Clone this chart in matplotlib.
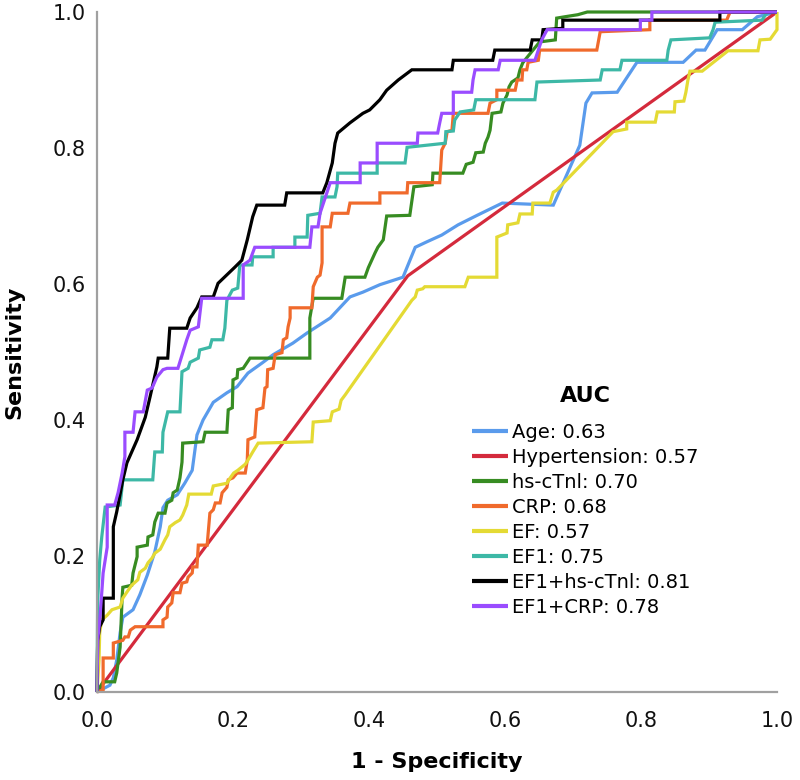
import matplotlib
matplotlib.use("Agg")
import matplotlib.pyplot as plt

# ---- data (1 - specificity, sensitivity) ----
labels = ["Age: 0.63", "Hypertension: 0.57", "hs-cTnl: 0.70", "CRP: 0.68",
          "EF: 0.57", "EF1: 0.75", "EF1+hs-cTnl: 0.81", "EF1+CRP: 0.78"]
colors = ["#5a9bec", "#d42a3c", "#378c22", "#f06a2c", "#e4da34", "#3db8a6",
          "#000000", "#9a4cff"]

age_x = [0, 0.019, 0.024, 0.029, 0.034, 0.038, 0.053, 0.063, 0.074, 0.085, 0.093, 0.097,
         0.104, 0.118, 0.129, 0.140, 0.147, 0.156, 0.171, 0.191, 0.206, 0.222, 0.243,
         0.259, 0.288, 0.309, 0.343, 0.372, 0.391, 0.416, 0.450, 0.468, 0.485, 0.507,
         0.531, 0.559, 0.596, 0.671, 0.710, 0.719, 0.728, 0.765, 0.794, 0.862, 0.881,
         0.894, 0.912, 0.949, 0.971, 1.0]
age_y = [0, 0.010, 0.021, 0.047, 0.087, 0.110, 0.121, 0.143, 0.172, 0.206, 0.243, 0.271,
         0.282, 0.290, 0.307, 0.326, 0.378, 0.400, 0.426, 0.440, 0.449, 0.469, 0.484,
         0.496, 0.513, 0.528, 0.550, 0.581, 0.588, 0.599, 0.610, 0.654, 0.662, 0.672,
         0.687, 0.701, 0.719, 0.716, 0.804, 0.866, 0.881, 0.882, 0.926, 0.926, 0.944,
         0.944, 0.974, 0.974, 0.993, 1.0]

htn_x = [0, 0.457, 1.0]
htn_y = [0, 0.612, 1.0]

tni_x = [0, 0.009, 0.026, 0.029, 0.034, 0.037, 0.038, 0.051, 0.053, 0.059, 0.059, 0.074,
         0.075, 0.082, 0.085, 0.090, 0.100, 0.103, 0.110, 0.112, 0.118, 0.122, 0.125,
         0.126, 0.156, 0.159, 0.191, 0.193, 0.199, 0.200, 0.206, 0.207, 0.215, 0.221,
         0.225, 0.313, 0.313, 0.318, 0.360, 0.365, 0.394, 0.399, 0.404, 0.409, 0.413,
         0.421, 0.426, 0.460, 0.466, 0.493, 0.494, 0.538, 0.543, 0.553, 0.557, 0.568,
         0.571, 0.575, 0.578, 0.581, 0.594, 0.597, 0.603, 0.606, 0.610, 0.619, 0.622,
         0.626, 0.629, 0.651, 0.674, 0.676, 0.688, 0.707, 0.721, 1.0]
tni_y = [0, 0.015, 0.015, 0.028, 0.066, 0.140, 0.154, 0.157, 0.175, 0.199, 0.213, 0.216,
         0.228, 0.231, 0.250, 0.263, 0.263, 0.278, 0.282, 0.293, 0.297, 0.315, 0.338,
         0.366, 0.368, 0.382, 0.382, 0.415, 0.418, 0.459, 0.462, 0.474, 0.476, 0.485,
         0.491, 0.491, 0.550, 0.579, 0.579, 0.610, 0.610, 0.624, 0.635, 0.646, 0.654,
         0.665, 0.700, 0.701, 0.743, 0.746, 0.763, 0.763, 0.776, 0.779, 0.793, 0.794,
         0.807, 0.816, 0.826, 0.851, 0.853, 0.866, 0.878, 0.890, 0.897, 0.903, 0.915,
         0.925, 0.929, 0.956, 0.959, 0.991, 0.993, 0.996, 1.0, 1.0]

crp_x = [0, 0.009, 0.009, 0.024, 0.024, 0.038, 0.041, 0.046, 0.049, 0.056, 0.097, 0.097,
         0.103, 0.104, 0.110, 0.112, 0.122, 0.125, 0.132, 0.134, 0.140, 0.141, 0.147,
         0.149, 0.162, 0.163, 0.166, 0.171, 0.174, 0.181, 0.184, 0.191, 0.193, 0.200,
         0.206, 0.218, 0.221, 0.222, 0.232, 0.235, 0.244, 0.247, 0.250, 0.251, 0.259,
         0.262, 0.272, 0.274, 0.279, 0.281, 0.284, 0.284, 0.316, 0.318, 0.324, 0.328,
         0.331, 0.331, 0.343, 0.346, 0.369, 0.372, 0.416, 0.416, 0.456, 0.457, 0.504,
         0.507, 0.512, 0.515, 0.522, 0.524, 0.575, 0.578, 0.588, 0.588, 0.615, 0.618,
         0.625, 0.626, 0.632, 0.634, 0.649, 0.651, 0.735, 0.740, 0.813, 0.813, 0.926,
         0.931, 1.0]
crp_y = [0, 0.003, 0.050, 0.050, 0.072, 0.076, 0.081, 0.081, 0.091, 0.096, 0.096, 0.106,
         0.110, 0.125, 0.131, 0.146, 0.146, 0.160, 0.162, 0.169, 0.175, 0.184, 0.184,
         0.216, 0.216, 0.228, 0.263, 0.268, 0.278, 0.278, 0.293, 0.301, 0.312, 0.315,
         0.322, 0.322, 0.341, 0.371, 0.375, 0.415, 0.418, 0.447, 0.449, 0.474, 0.476,
         0.496, 0.499, 0.518, 0.521, 0.537, 0.550, 0.565, 0.565, 0.596, 0.610, 0.613,
         0.631, 0.684, 0.684, 0.704, 0.704, 0.719, 0.719, 0.734, 0.734, 0.749, 0.749,
         0.797, 0.807, 0.824, 0.826, 0.851, 0.851, 0.866, 0.871, 0.885, 0.885, 0.900,
         0.900, 0.915, 0.915, 0.926, 0.929, 0.944, 0.944, 0.971, 0.974, 0.988, 0.988,
         1.0, 1.0]

ef_x = [0, 0.003, 0.004, 0.007, 0.015, 0.022, 0.034, 0.038, 0.044, 0.051, 0.060, 0.063,
        0.071, 0.075, 0.081, 0.085, 0.093, 0.096, 0.100, 0.104, 0.107, 0.115, 0.122,
        0.126, 0.132, 0.135, 0.168, 0.171, 0.191, 0.196, 0.201, 0.207, 0.218, 0.222,
        0.229, 0.237, 0.316, 0.318, 0.343, 0.346, 0.356, 0.359, 0.365, 0.372, 0.463,
        0.468, 0.471, 0.479, 0.482, 0.541, 0.546, 0.588, 0.588, 0.603, 0.604, 0.619,
        0.622, 0.640, 0.641, 0.666, 0.671, 0.676, 0.759, 0.779, 0.779, 0.821, 0.824,
        0.849, 0.850, 0.863, 0.866, 0.869, 0.872, 0.890, 0.928, 0.972, 0.975, 0.990,
        1.0, 1.0]
ef_y = [0, 0.047, 0.087, 0.106, 0.113, 0.121, 0.125, 0.138, 0.147, 0.157, 0.165, 0.176,
        0.182, 0.190, 0.197, 0.204, 0.210, 0.216, 0.224, 0.231, 0.243, 0.249, 0.253,
        0.260, 0.275, 0.291, 0.291, 0.303, 0.307, 0.315, 0.322, 0.326, 0.335, 0.341,
        0.353, 0.366, 0.368, 0.397, 0.399, 0.412, 0.416, 0.429, 0.437, 0.447, 0.576,
        0.581, 0.591, 0.593, 0.596, 0.596, 0.610, 0.610, 0.669, 0.675, 0.687, 0.690,
        0.703, 0.703, 0.719, 0.719, 0.735, 0.738, 0.824, 0.828, 0.838, 0.838, 0.853,
        0.853, 0.868, 0.869, 0.882, 0.900, 0.913, 0.913, 0.943, 0.943, 0.959, 0.960,
        0.974, 1.0]

ef1_x = [0, 0.001, 0.004, 0.007, 0.012, 0.034, 0.038, 0.082, 0.085, 0.096, 0.097, 0.104,
         0.122, 0.125, 0.134, 0.137, 0.149, 0.151, 0.166, 0.169, 0.185, 0.188, 0.191,
         0.199, 0.207, 0.210, 0.228, 0.229, 0.259, 0.259, 0.291, 0.291, 0.309, 0.310,
         0.328, 0.331, 0.350, 0.353, 0.354, 0.412, 0.412, 0.453, 0.456, 0.512, 0.513,
         0.524, 0.526, 0.534, 0.554, 0.557, 0.644, 0.647, 0.740, 0.743, 0.769, 0.772,
         0.838, 0.840, 0.844, 0.901, 0.906, 0.909, 0.978, 0.985, 1.0]
ef1_y = [0, 0.135, 0.194, 0.228, 0.272, 0.275, 0.312, 0.312, 0.353, 0.353, 0.382, 0.412,
         0.412, 0.471, 0.476, 0.485, 0.491, 0.503, 0.507, 0.518, 0.518, 0.535, 0.576,
         0.591, 0.594, 0.628, 0.628, 0.640, 0.640, 0.654, 0.654, 0.669, 0.669, 0.701,
         0.704, 0.728, 0.728, 0.743, 0.763, 0.763, 0.778, 0.778, 0.801, 0.807, 0.824,
         0.825, 0.841, 0.853, 0.856, 0.871, 0.871, 0.897, 0.900, 0.915, 0.915, 0.929,
         0.929, 0.944, 0.959, 0.962, 0.974, 0.985, 0.988, 0.999, 1.0]

ef1_tni_x = [0, 0.001, 0.004, 0.009, 0.009, 0.024, 0.024, 0.029, 0.038, 0.044, 0.059,
             0.071, 0.078, 0.088, 0.090, 0.104, 0.107, 0.132, 0.137, 0.147, 0.154, 0.171,
             0.178, 0.203, 0.213, 0.221, 0.229, 0.235, 0.276, 0.279, 0.332, 0.338, 0.346,
             0.350, 0.354, 0.372, 0.391, 0.401, 0.416, 0.426, 0.443, 0.463, 0.522, 0.524,
             0.582, 0.585, 0.637, 0.640, 0.654, 0.656, 0.685, 0.685, 0.916, 0.916, 1.0]
ef1_tni_y = [0, 0.076, 0.096, 0.106, 0.138, 0.138, 0.243, 0.265, 0.312, 0.337, 0.371,
             0.404, 0.434, 0.478, 0.491, 0.491, 0.535, 0.535, 0.550, 0.565, 0.581, 0.581,
             0.601, 0.625, 0.635, 0.665, 0.699, 0.716, 0.716, 0.734, 0.734, 0.749, 0.778,
             0.807, 0.822, 0.837, 0.851, 0.856, 0.871, 0.885, 0.900, 0.915, 0.915, 0.929,
             0.929, 0.944, 0.944, 0.959, 0.959, 0.974, 0.976, 0.988, 0.988, 1.0, 1.0]

ef1_crp_x = [0, 0.001, 0.004, 0.007, 0.009, 0.015, 0.015, 0.026, 0.031, 0.037, 0.041,
             0.041, 0.053, 0.056, 0.068, 0.074, 0.081, 0.088, 0.097, 0.103, 0.119, 0.132,
             0.137, 0.149, 0.154, 0.215, 0.215, 0.225, 0.232, 0.313, 0.316, 0.325, 0.328,
             0.338, 0.343, 0.387, 0.387, 0.412, 0.412, 0.471, 0.472, 0.501, 0.504, 0.507,
             0.524, 0.524, 0.551, 0.553, 0.556, 0.590, 0.593, 0.644, 0.649, 0.654, 0.662,
             0.799, 0.799, 0.816, 0.816, 1.0]
ef1_crp_y = [0, 0.076, 0.106, 0.146, 0.175, 0.213, 0.275, 0.275, 0.293, 0.322, 0.346,
             0.382, 0.382, 0.412, 0.412, 0.444, 0.447, 0.463, 0.474, 0.476, 0.476, 0.518,
             0.532, 0.537, 0.579, 0.579, 0.628, 0.635, 0.654, 0.654, 0.684, 0.684, 0.704,
             0.734, 0.749, 0.749, 0.778, 0.778, 0.807, 0.807, 0.822, 0.822, 0.837, 0.851,
             0.851, 0.882, 0.882, 0.900, 0.915, 0.915, 0.929, 0.929, 0.944, 0.959, 0.974,
             0.974, 0.988, 0.988, 1.0, 1.0]

xs = [age_x, htn_x, tni_x, crp_x, ef_x, ef1_x, ef1_tni_x, ef1_crp_x]
ys = [age_y, htn_y, tni_y, crp_y, ef_y, ef1_y, ef1_tni_y, ef1_crp_y]

x_ticks = [0.0, 0.2, 0.4, 0.6, 0.8, 1.0]
y_ticks = [0.0, 0.2, 0.4, 0.6, 0.8, 1.0]

# ---- figure ----
plt.rcParams['font.family'] = ['DejaVu Sans']
fig = plt.figure(figsize=(8.0, 7.8), dpi=100)
ax = fig.add_axes([97 / 800, 1 - 692 / 780, 680 / 800, 680 / 780])

for x, y, c, lab in zip(xs, ys, colors, labels):
    ax.plot(x, y, color=c, lw=2.3, label=lab, clip_on=False,
            solid_joinstyle='miter', solid_capstyle='butt')

ax.set_xlim(0, 1)
ax.set_ylim(0, 1)
ax.set_xticks(x_ticks)
ax.set_yticks(y_ticks)
ax.set_xticklabels([f"{v:.1f}" for v in x_ticks])
ax.set_yticklabels([f"{v:.1f}" for v in y_ticks])
ax.tick_params(axis='both', length=0, labelsize=15, colors='#111111')
ax.tick_params(axis='x', pad=14)
ax.tick_params(axis='y', pad=8)

for s in ['top', 'right']:
    ax.spines[s].set_visible(False)
for s in ['left', 'bottom']:
    ax.spines[s].set_color('#a0a0a0')
    ax.spines[s].set_linewidth(1.6)

ax.set_xlabel("1 - Specificity", fontsize=16, fontweight='bold')
ax.set_ylabel("Sensitivity", fontsize=16, fontweight='bold')
ax.xaxis.set_label_coords(0.5, (692 - 752) / 680)
ax.yaxis.set_label_coords((24 - 97) / 680, 0.5)

fs = 14
leg = ax.legend(loc='upper left',
                bbox_to_anchor=((472 - 97) / 680, (692 - 386) / 680),
                frameon=False, fontsize=fs, title="AUC",
                title_fontproperties={'weight': 'bold', 'size': 16},
                handlelength=1.85, handletextpad=0.22, labelspacing=0.31,
                borderpad=0, borderaxespad=0)
leg._legend_box.sep = 12.0  # extra gap (points) between title and entries
for line in leg.get_lines():
    line.set_linewidth(3)

fig.savefig("out.png", dpi=100)
